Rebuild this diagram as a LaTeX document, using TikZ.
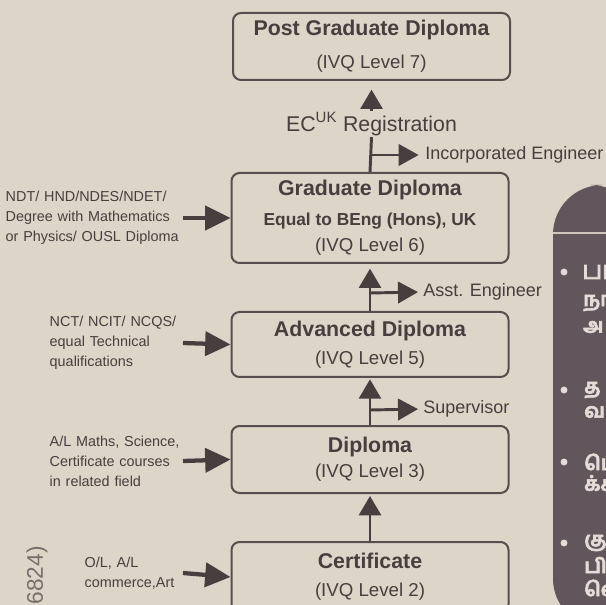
\documentclass[tikz,border=0pt]{standalone}
\usepackage{fontspec}
\setmainfont{Liberation Sans}
\newfontfamily\tamilfont[Script=Tamil,FakeBold=3]{Hind Madurai}
\usetikzlibrary{arrows.meta}
\definecolor{paper}{RGB}{221,213,200}
\definecolor{ink}{RGB}{72,62,64}
\definecolor{boxline}{RGB}{88,78,80}
\definecolor{panel}{RGB}{98,86,92}
\definecolor{paneltext}{RGB}{228,220,214}
\definecolor{faint}{RGB}{120,110,108}
\tikzset{
  lvlbox/.style={draw=boxline, line width=1.5pt, rounded corners=6pt, minimum width=207.75pt, align=center, inner sep=0pt, text=ink, font=\fontsize{14}{21}\selectfont},
  uparrow/.style={draw=ink, line width=2.2pt, -{Triangle[width=16.5pt,length=14.5pt]}},
  sidearrow/.style={draw=ink, line width=2.2pt, -{Triangle[width=16pt,length=15pt]}},
  inarrow/.style={draw=ink, line width=3.2pt, -{Triangle[width=18pt,length=19pt]}},
  inlabel/.style={anchor=east, align=left, inner sep=0pt, text=ink, font=\fontsize{10.8}{15}\selectfont},
  rolelabel/.style={anchor=west, inner sep=0.75pt, text=ink, font=\fontsize{13.5}{16}\selectfont},
  tamilline/.style={anchor=west, inner sep=0pt, text=paneltext, font=\tamilfont\bfseries\fontsize{15}{18}\selectfont},
}
\begin{document}
\begin{tikzpicture}[x=0.75pt,y=0.75pt,yscale=-1,xscale=1]
\useasboundingbox (0,0) rectangle (606,605);
\clip (0,0) rectangle (606,605);
\fill[paper] (0,0) rectangle (606,605);

%Shape: side panel
\fill[panel, rounded corners=37pt] (553,628) -- (553,185) -- (640,185) -- (640,628) -- cycle;
\draw[paper!90!panel, line width=1.5pt] (553,233) -- (606,233);
\foreach \y in {272,390,462,543} {
  \fill[paneltext] (564,\y) circle (2.6pt);
}
% Text Node
\node[tamilline, font=\tamilfont\fontsize{19}{20}\selectfont] (ta) at (582,272) {பா};
\node[tamilline] (tb) at (583,303) {நா};
\node[tamilline] (tc) at (583,327) {அ};
\node[tamilline] (td) at (584,390) {த};
\node[tamilline] (te) at (584,412) {வ};
\node[tamilline] (tf) at (584,462) {பெ};
\node[tamilline] (tg) at (584,483) {க்க};
\node[tamilline] (th) at (584,543) {கு};
\node[tamilline] (ti) at (584,565) {பி};
\node[tamilline] (tj) at (584,588) {வெ};

%Shape: level boxes
\node[lvlbox, minimum height=50.25pt] (pg) at (371.5,46.5) {{\bfseries\fontsize{16}{21}\selectfont Post Graduate Diploma}\\[4pt](IVQ Level 7)};
\node[lvlbox, minimum height=67.5pt] (grad) at (370,218) {{\bfseries\fontsize{16}{21}\selectfont Graduate Diploma}\\[1.5pt]{\bfseries\fontsize{13}{21}\selectfont Equal to BEng (Hons), UK}\\[-1.5pt](IVQ Level 6)};
\node[lvlbox, minimum height=48.75pt] (adv) at (370,344.5) {{\bfseries\fontsize{16}{21}\selectfont Advanced Diploma}\\(IVQ Level 5)};
\node[lvlbox, minimum height=50.25pt] (dip) at (370,459.5) {{\bfseries\fontsize{16}{21}\selectfont Diploma}\\[-2pt](IVQ Level 3)};
\node[lvlbox, minimum height=52.5pt] (cert) at (370,577) {{\bfseries\fontsize{16}{21}\selectfont Certificate}\\(IVQ Level 2)};

% Text Node
\node[inner sep=1pt, text=ink, font=\fontsize{16}{18}\selectfont] (reg) at (371.5,124) {EC\textsuperscript{UK} Registration};
\coordinate (b1) at (370,155);
\coordinate (b2) at (370,293);
\coordinate (b3) at (370,410);
\node[rolelabel] (inc) at (424,155) {Incorporated Engineer};
\node[rolelabel] (asst) at (422,292) {Asst. Engineer};
\node[rolelabel] (sup) at (422,409) {Supervisor};

% Text Node
\node[inlabel, text width=132.75pt] (gradin) at (183,218) {NDT/ HND/NDES/NDET/\\Degree with Mathematics\\or Physics/ OUSL Diploma};
\node[inlabel, text width=99.75pt] (advin) at (183,343) {NCT/ NCIT/ NCQS/\\equal Technical\\qualifications};
\node[inlabel, text width=99.75pt] (dipin) at (183,461) {A/L Maths, Science,\\Certificate courses\\in related field};
\node[inlabel, text width=73.5pt] (certin) at (183,573) {O/L, A/L\\commerce,Art};
\node[rotate=90, anchor=east, inner sep=0pt, text=faint, font=\fontsize{17}{17}\selectfont] (code) at (37,546) {6824)};

%Shape: connectors
\draw[uparrow, shorten >=6.5pt] (reg.north) -- (pg.south);
\draw[draw=ink, line width=2.2pt] (grad.north) -- (reg.south);
\draw[sidearrow, shorten >=4pt] (b1) -- (inc.west);
\draw[uparrow, shorten >=3.5pt] (adv.north) -- (grad.south);
\draw[sidearrow, shorten >=3pt] (b2) -- (asst.west);
\draw[uparrow, shorten >=1pt] (dip.north) -- (adv.south);
\draw[sidearrow, shorten >=3pt] (b3) -- (sup.west);
\draw[uparrow, shorten >=1.5pt] (cert.north) -- (dip.south);
\foreach \src/\dst in {gradin/grad,advin/adv,dipin/dip,certin/cert} {
  \draw[inarrow] (\src.east) -- (\dst.west);
}
\end{tikzpicture}
\end{document}
